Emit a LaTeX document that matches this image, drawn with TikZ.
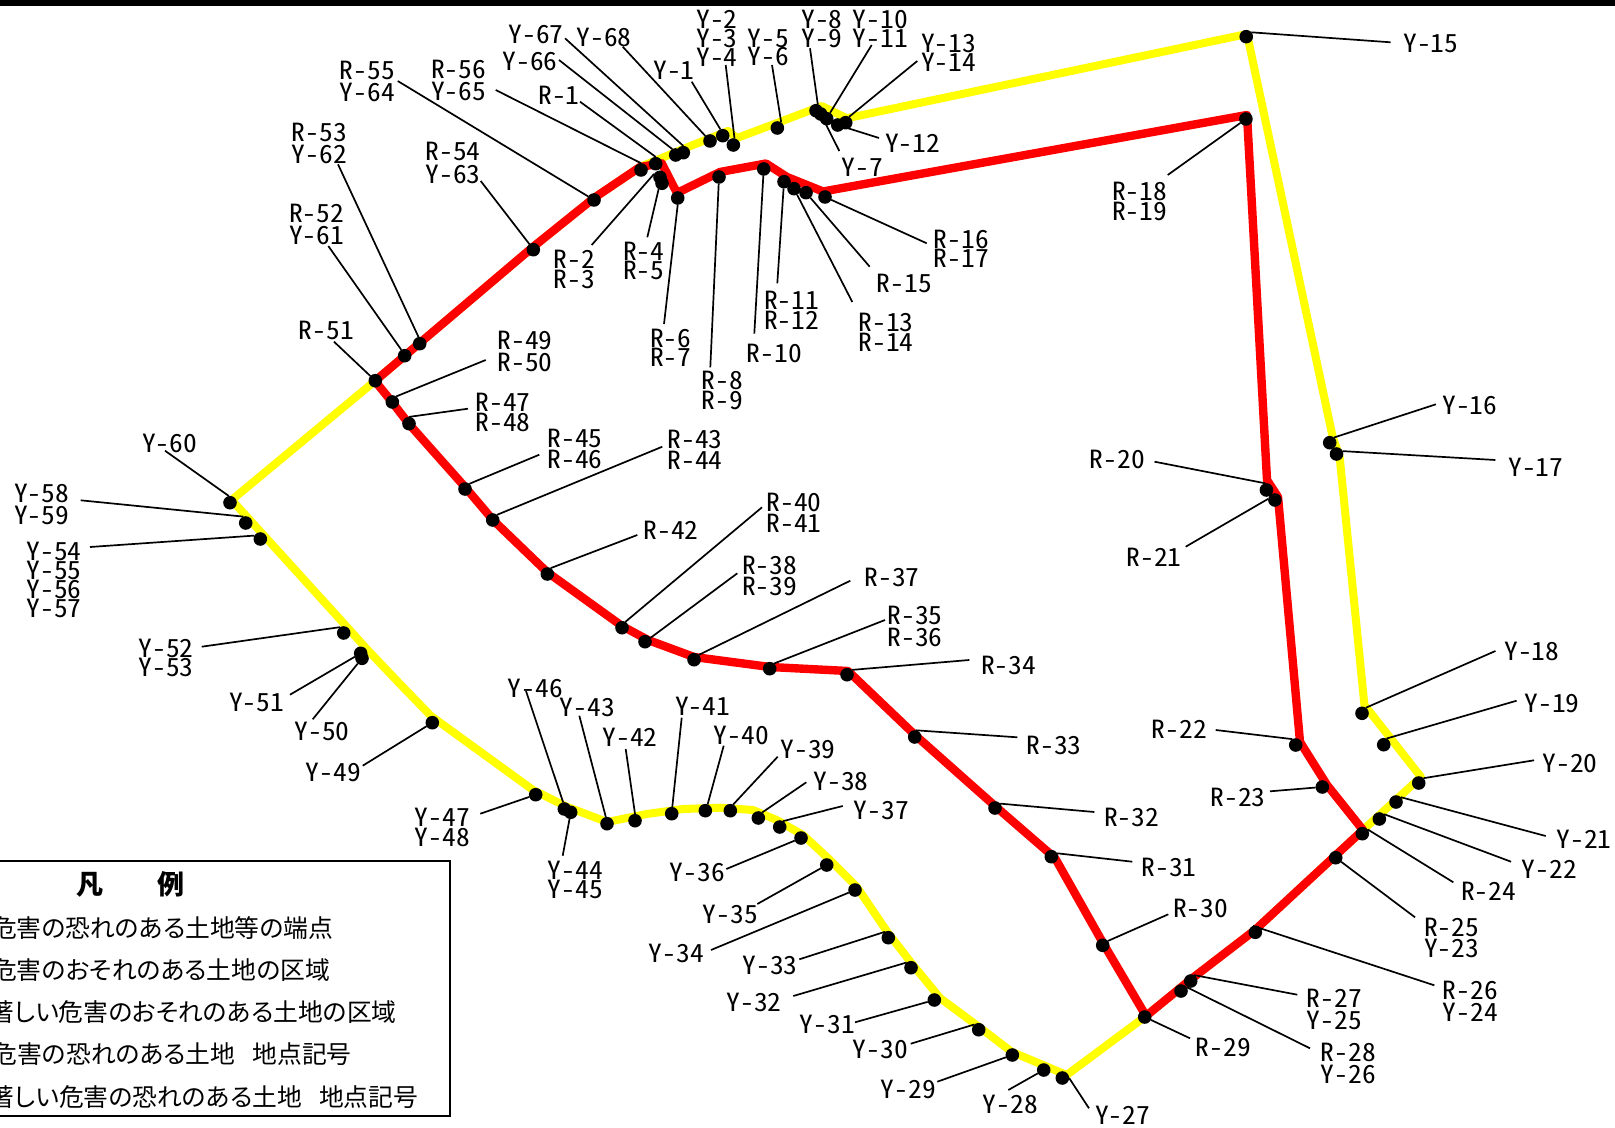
\documentclass[tikz,border=0pt]{standalone}
\usepackage{fontspec}
\newfontfamily\lblf{Noto Sans CJK JP}[RawFeature=+hwid,FakeStretch=1.1]
\newfontfamily\legf{Noto Sans CJK JP}[RawFeature=+palt]
\definecolor{pureyellow}{RGB}{255,255,0}
\definecolor{purered}{RGB}{255,0,0}
\tikzset{
  pdot/.style={circle,fill=black,draw=none,minimum size=6.8pt,inner sep=0pt,outer sep=0pt},
  lead/.style={draw=black,line width=0.85pt},
  lbl/.style={inner sep=0pt,outer sep=0pt,align=center,text=black,
    font={\lblf\fontsize{12.5pt}{10pt}\selectfont\baselineskip=#1pt\relax\divide\baselineskip by 2\relax\lineskiplimit=-20pt\relax}},
  yellowline/.style={draw=pureyellow,line width=4pt,line join=round},
  redline/.style={draw=purered,line width=4.2pt,line join=round},
  legtext/.style={anchor=east,inner sep=0pt,outer sep=0pt,font={\legf\fontsize{12.4pt}{14pt}\selectfont}},
  legtitle/.style={inner sep=0pt,outer sep=0pt,font={\legf\bfseries\fontsize{13.5pt}{16pt}\selectfont}},
  legbox/.style={draw=black,line width=1.1pt,line join=miter},
}
\newcommand{\Mk}[7][20]{%
  \node[pdot] (d#2) at (#3) {};
  \coordinate (e#2) at (#5);
  \node[lbl=#1] (t#2) at (#6) {#7};
  \draw[lead] (e#2) -- (d#2#4);
}
\begin{document}
\begin{tikzpicture}[x=0.5pt,y=-0.5pt]
\useasboundingbox (0,0) rectangle (1615,1128);
\clip (0,0) rectangle (1615,1128);
\fill[black] (0,0) rectangle (1615,6);
% outer (yellow) line
\draw[yellowline] (1247,34) -- (1332.6,436.7) -- (1339.6,456.7) -- (1364.4,705) -- (1421,777) -- (1363,830) -- (1336,855) -- (1255,930) -- (1190,980) -- (1146,1016) -- (1066.7,1075) -- (1043,1065) -- (1012,1052) -- (978.7,1026.7) -- (940,998) -- (913,965) -- (888,933) -- (856.7,886.7) -- (830,860) -- (803,835) -- (776.7,820) -- (753,810) -- (720,807.7) -- (683,809) -- (646.7,814) -- (607,822) -- (566.7,806.7) -- (533,790) -- (431,716) -- (400,684) -- (366.7,649) -- (346.7,626.7) -- (231.7,500) -- (375,381) -- (533,247) -- (594,198) -- (640,167) -- (657,160) -- (688,147) -- (728,131) -- (737,138) -- (777,123) -- (821.7,106) -- (846.7,118.3) -- cycle;
% inner (red) line
\draw[redline] (375,381) -- (533,247) -- (594,198) -- (640,167) -- (661.7,163.3) -- (677,193) -- (720,172) -- (766,163.5) -- (787,177) -- (823,191.5) -- (1247,115) -- (1267,480) -- (1278,497) -- (1300,742) -- (1327,785) -- (1363,830) -- (1336,855) -- (1255,930) -- (1190,980) -- (1146,1016) -- (1103,943) -- (1055,858) -- (995,806) -- (915,735) -- (848,671) -- (770,667) -- (694,657) -- (648,640) -- (622,626) -- (547,572) -- (493,520) -- (465,487) -- (409,424) -- (392,402) -- cycle;
% points
\Mk{Y1}{722.7,135.7}{.110}{691.7,81.7}{674,70.3}{Y-1}
\Mk[19]{Y2}{733.3,145}{.80}{725.7,65}{717,38}{Y-2\\Y-3\\Y-4}
\Mk[18]{Y5}{777.3,128}{.55}{772,65}{768.3,47.7}{Y-5\\Y-6}
\Mk{Y7}{820.7,114}{}{839.3,151}{862.3,167.7}{Y-7}
\Mk[19]{Y8}{816,110.7}{.75}{810,48.3}{822,29.2}{Y-8\\Y-9}
\Mk[19]{Y10}{826.7,118.7}{.60}{871.7,45}{880.3,29.2}{Y-10\\Y-11}
\Mk{Y12}{837.7,125}{}{879,138}{912.7,143.7}{Y-12}
\Mk[19]{Y13}{845.7,122.7}{.60}{917.3,61}{948.7,52.5}{Y-13\\Y-14}
\Mk{Y15}{1246.2,36.7}{.40}{1390.6,42.3}{1430.9,43}{Y-15}
\Mk{Y16}{1329.7,442.7}{.50}{1435.9,404.3}{1469.9,405.7}{Y-16}
\Mk{Y17}{1336.5,454}{.25}{1495.4,460}{1535.8,467}{Y-17}
\Mk{Y18}{1362,713.3}{.55}{1495.4,651}{1531.9,651.7}{Y-18}
\Mk{Y19}{1383.7,744.7}{.65}{1516.6,700.7}{1552,703.7}{Y-19}
\Mk{Y20}{1418.7,783}{.45}{1534,760.3}{1570,763.7}{Y-20}
\Mk{Y21}{1396,802}{.45}{1545.7,836}{1584,839.3}{Y-21}
\Mk{Y22}{1379.3,819}{.45}{1511,861.7}{1549.3,869.7}{Y-22}
\Mk{R24}{1362.3,833.7}{.40}{1453.3,882.3}{1488.7,891.7}{R-24}
\Mk[21]{R25}{1335.7,857.7}{}{1415,917.3}{1451.7,937.5}{R-25\\Y-23}
\Mk[22]{R26}{1255.3,932.3}{.110}{1434.3,985.3}{1470.3,1001.7}{R-26\\Y-24}
\Mk[22]{R27}{1190.7,981}{.60}{1297.3,994.7}{1334.3,1009}{R-27\\Y-25}
\Mk[22]{R28}{1181,991}{.35}{1310,1048.3}{1348.3,1063.8}{R-28\\Y-26}
\Mk{R29}{1144.7,1017}{}{1190,1038.3}{1223.3,1047}{R-29}
\Mk{R30}{1102.7,945.3}{.40}{1168.3,914.3}{1200.7,908}{R-30}
\Mk{R31}{1051.3,856.7}{.30}{1132.3,861.7}{1169,867.7}{R-31}
\Mk{R32}{995,808}{.40}{1094.3,812}{1131.7,817}{R-32}
\Mk{R33}{914.7,737}{.80}{1017.3,737.3}{1054,745.7}{R-33}
\Mk{R34}{847,674.7}{.45}{969.3,660}{1008.7,665.7}{R-34}
\Mk[22]{R35}{769.7,668.7}{.50}{885,620}{915,626}{R-35\\R-36}
\Mk{R37}{694,659.7}{.45}{850.3,580.7}{892,577}{R-37}
\Mk[21]{R38}{645,641.7}{.35}{737.3,573.3}{769.7,576.3}{R-38\\R-39}
\Mk[21]{R40}{622,627.7}{.60}{762,507.3}{794,513.3}{R-40\\R-41}
\Mk{R42}{547.3,574}{.60}{637.3,535}{671,530}{R-42}
\Mk[21]{R43}{492.7,520}{.50}{662.3,446.7}{695,449.5}{R-43\\R-44}
\Mk[21]{R45}{465,489}{.50}{539.3,454.7}{575,448.5}{R-45\\R-46}
\Mk[20]{R47}{409,423.7}{.90}{468,408.7}{503,412}{R-47\\R-48}
\Mk[22]{R49}{392.3,402}{.55}{485.7,360}{525,351.7}{R-49\\R-50}
\Mk{R51}{375.3,380.7}{}{334,341.7}{326.3,330.7}{R-51}
\Mk[22]{R52}{404.7,355.7}{.120}{328.3,246}{316.7,224.5}{R-52\\Y-61}
\Mk[22]{R53}{419.7,343.7}{.100}{338,164.3}{319.3,143}{R-53\\Y-62}
\Mk[23]{R54}{533.3,249.7}{.125}{480.7,181}{453,162.7}{R-54\\Y-63}
\Mk[22]{R55}{594,200}{}{397.7,81}{367.3,81.5}{R-55\\Y-64}
\Mk[22]{R56}{641,170}{.90}{495.7,90}{458.7,80}{R-56\\Y-65}
\Mk{R1}{655.7,163.7}{.90}{580,101.7}{559,95.7}{R-1}
\Mk{Y66}{675.7,155}{.120}{559,60}{530,61}{Y-66}
\Mk{Y67}{683.3,152.7}{.90}{565,38.3}{536,34}{Y-67}
\Mk{Y68}{710,141}{}{622.7,46.7}{604,37.3}{Y-68}
\Mk[20]{R2}{660,177.3}{.150}{591.7,245}{574.3,269.3}{R-2\\R-3}
\Mk[19]{R4}{662,183.3}{.240}{647.3,237.3}{643.7,260.7}{R-4\\R-5}
\Mk[19]{R6}{677.7,198}{.270}{664,324}{670.7,347.5}{R-6\\R-7}
\Mk[20]{R8}{719,177}{}{710.3,367.3}{722.3,390.5}{R-8\\R-9}
\Mk{R10}{763.7,169}{}{754.3,333.7}{774.3,353.3}{R-10}
\Mk[20]{R11}{784,181.7}{}{777.3,283.3}{791.7,310}{R-11\\R-12}
\Mk[20]{R13}{794,188.7}{}{852.3,302}{886,332.7}{R-13\\R-14}
\Mk{R15}{806,192.7}{}{869.7,266.7}{904.3,283.7}{R-15}
\Mk[19]{R16}{825,197}{}{926.7,243.3}{961.3,249}{R-16\\R-17}
\Mk[20]{R18}{1245.9,119}{}{1167.7,175}{1139.7,201.8}{R-18\\R-19}
\Mk{R20}{1266.4,490}{.100}{1154.5,461.7}{1117.3,459}{R-20}
\Mk{R21}{1274.9,500}{.170}{1185.7,546.7}{1154.2,557.7}{R-21}
\Mk{R22}{1295.7,745}{.120}{1215.7,730}{1179.3,729}{R-22}
\Mk{R23}{1322.3,787}{}{1270,791.3}{1238,797}{R-23}
\Mk{Y27}{1062.3,1078}{.0}{1089,1108.3}{1122.7,1115.7}{Y-27}
\Mk{Y28}{1043.7,1070}{}{1008.3,1090}{1010.3,1104.7}{Y-28}
\Mk{Y29}{1012.3,1055}{}{937.3,1081.7}{908.3,1089}{Y-29}
\Mk{Y30}{978.7,1029.7}{.130}{910.7,1043.7}{880.3,1049}{Y-30}
\Mk{Y31}{934.3,1000}{}{855,1022.3}{827.3,1024}{Y-31}
\Mk{Y32}{911,967.7}{.130}{793.3,996}{754,1002.3}{Y-32}
\Mk{Y33}{888.3,937.7}{.120}{799.3,959.3}{770,965}{Y-33}
\Mk{Y34}{855,890}{}{711,950}{676.3,953.7}{Y-34}
\Mk{Y35}{826.7,865}{}{757.3,904}{730.3,914.3}{Y-35}
\Mk{Y36}{801,838}{}{726.3,869}{697.3,872.3}{Y-36}
\Mk{Y37}{779.7,827}{.60}{842.7,806}{881.3,810.3}{Y-37}
\Mk{Y38}{758.3,818}{.55}{806.3,782.3}{841,781.7}{Y-38}
\Mk{Y39}{730.3,810.7}{.65}{777.7,756.7}{808,749}{Y-39}
\Mk{Y40}{705.3,810.7}{.70}{723.7,745.7}{741.3,735.7}{Y-40}
\Mk{Y41}{671.7,813.7}{.85}{681.7,717.7}{702.7,706.7}{Y-41}
\Mk{Y42}{635,820.7}{.90}{625.7,749}{630,737}{Y-42}
\Mk{Y43}{607,823.7}{.100}{579.3,715.7}{587.3,707.7}{Y-43}
\Mk[19]{Y44}{570.7,812.3}{.260}{562.7,855.7}{575.3,879.5}{Y-44\\Y-45}
\Mk{Y46}{564.3,809}{.100}{526,691}{535.3,688.7}{Y-46}
\Mk[20]{Y47}{535.7,794.7}{}{480.3,813.7}{442.3,827.7}{Y-47\\Y-48}
\Mk{Y49}{432.3,722.7}{}{362.7,765.7}{333.3,772.7}{Y-49}
\Mk{Y50}{362,658.3}{}{312.7,719.3}{322,731}{Y-50}
\Mk{Y51}{360.7,653.3}{}{290,694.7}{256.7,702}{Y-51}
\Mk[19]{Y52}{343.7,633}{.120}{201.7,646.7}{166,658.3}{Y-52\\Y-53}
\Mk[19]{Y54}{260.3,539}{.150}{90,547}{54,580.3}{Y-54\\Y-55\\Y-56\\Y-57}
\Mk[22]{Y58}{245.7,523}{.110}{80.7,500.3}{41.7,504.8}{Y-58\\Y-59}
\Mk{Y60}{230,502.7}{.100}{165,450.7}{169.7,443.7}{Y-60}
% legend
\draw[legbox] (-5,861) -- (450,861) -- (450,1116) -- (-5,1116);
\node[legtitle] (legT) at (130.5,884) {凡　　例};
\node[legtext] (leg1) at (333.3,928.3) {危害の恐れのある土地等の端点};
\node[legtext] (leg2) at (330,970) {危害のおそれのある土地の区域};
\node[legtext] (leg3) at (396.7,1012.3) {著しい危害のおそれのある土地の区域};
\node[legtext] (leg4) at (351.7,1054.3) {危害の恐れのある土地\hspace{8.5pt}地点記号};
\node[legtext] (leg5) at (418.3,1096.7) {著しい危害の恐れのある土地\hspace{8.5pt}地点記号};
\end{tikzpicture}
\end{document}
